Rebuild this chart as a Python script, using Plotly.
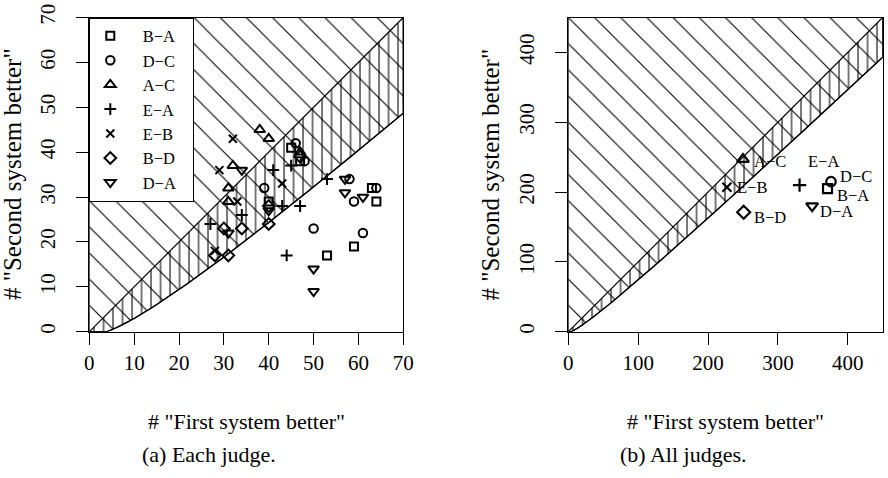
import numpy as np
import plotly.graph_objects as go

FONT = "Liberation Serif"
W, H = 888, 478

# ---------------- data ----------------
PAIRS = ["B−A", "D−C", "A−C", "E−A", "E−B", "B−D", "D−A"]

# panel (a): one point per judge  (# "first system better", # "second system better")
BA_FIRST = [45, 47, 40, 63, 64, 59, 53]
BA_SECOND = [41, 38, 29, 32, 29, 19, 17]
DC_FIRST = [46, 48, 58, 59, 64, 39, 50, 61]
DC_SECOND = [42, 38, 34, 29, 32, 32, 23, 22]
AC_FIRST = [38, 40, 32, 31, 31, 47]
AC_SECOND = [45, 43, 37, 32, 29, 40]
EA_FIRST = [41, 45, 53, 43, 47, 44, 34, 27]
EA_SECOND = [36, 37, 34, 28, 28, 17, 26, 24]
EB_FIRST = [32, 29, 43, 33, 28]
EB_SECOND = [43, 36, 33, 29, 18]
BD_FIRST = [40, 40, 34, 30, 28, 31, 47]
BD_SECOND = [28, 24, 23, 23, 17, 17, 39]
DA_FIRST = [34, 57, 57, 61, 40, 31, 50, 50]
DA_SECOND = [36, 34, 31, 30, 27, 22, 14, 9]

FIRST_BY_PAIR = [BA_FIRST, DC_FIRST, AC_FIRST, EA_FIRST, EB_FIRST, BD_FIRST, DA_FIRST]
SECOND_BY_PAIR = [BA_SECOND, DC_SECOND, AC_SECOND, EA_SECOND, EB_SECOND, BD_SECOND, DA_SECOND]

# panel (b): all judges pooled
TOTAL_FIRST = [371, 376, 250, 331, 227, 251, 349]
TOTAL_SECOND = [205, 215, 247, 210, 207, 171, 180]

TICKS_A = [0, 10, 20, 30, 40, 50, 60, 70]
TICKS_B = [0, 100, 200, 300, 400]
RANGE_A = [0, 70]
RANGE_B = [0, 450]
Z_CRIT = 1.96  # two-sided 5% sign test (normal approx.)

# ---------------- styles ----------------
SYMBOLS = ["square-open", "circle-open", "triangle-up-open", "cross-thin-open",
           "x-thin-open", "diamond-open", "triangle-down-open"]
SIZES = [8, 8.5, 9.5, 8.5, 8, 9, 9.5]
LABEL_DX = [7, 7, 9, 24, 8, 8, 6]
LABEL_DY = [-7, 5, -2, 24, 0, -5, -5]
LABEL_ANCHOR = ["left", "left", "left", "center", "left", "left", "left"]

PX_L, PX_R = 89.3, 403.3
PX_L2, PX_R2 = 568.3, 882.7
PY_T, PY_B = 17.5, 331.7


def boundary(xmax):
    r = (-Z_CRIT + np.sqrt(Z_CRIT ** 2 + 8 * xmax)) / 2
    s = np.linspace(Z_CRIT ** 2, r ** 2, 300)
    return (s + Z_CRIT * np.sqrt(s)) / 2, (s - Z_CRIT * np.sqrt(s)) / 2


fig = go.Figure()


def add_regions(xmax, xa, ya):
    cx, cy = boundary(xmax)
    # region where "first better" is not significant: diagonal hatching
    px = list(cx) + [xmax, 0, 0, cx[0]]
    py = list(cy) + [xmax, xmax, 0, cy[0]]
    fig.add_trace(go.Scatter(
        x=px, y=py, mode="lines", fill="toself", fillcolor="rgba(0,0,0,0)",
        fillpattern=dict(shape="\\", size=18.5, solidity=0.06, fgcolor="black",
                         bgcolor="rgba(0,0,0,0)", fillmode="replace"),
        line=dict(color="black", width=1.2), xaxis=xa, yaxis=ya,
        showlegend=False, hoverinfo="skip"))
    # band between the diagonal and the significance curve: vertical hatching
    bx = [0, xmax, xmax] + list(cx[::-1]) + [0]
    by = [0, xmax, cy[-1]] + list(cy[::-1]) + [0]
    fig.add_trace(go.Scatter(
        x=bx, y=by, mode="lines", fill="toself", fillcolor="rgba(0,0,0,0)",
        fillpattern=dict(shape="|", size=9.5, solidity=0.11, fgcolor="black",
                         bgcolor="rgba(0,0,0,0)", fillmode="replace"),
        line=dict(color="black", width=1.2), xaxis=xa, yaxis=ya,
        showlegend=False, hoverinfo="skip"))


add_regions(RANGE_A[1], "x", "y")
add_regions(RANGE_B[1], "x2", "y2")

NB = "\u00a0"
for i, name in enumerate(PAIRS):
    fig.add_trace(go.Scatter(
        x=FIRST_BY_PAIR[i], y=SECOND_BY_PAIR[i], mode="markers",
        name=NB * 3 + name + NB * 3,
        marker=dict(symbol=SYMBOLS[i], size=SIZES[i], color="black",
                    line=dict(width=2, color="black")),
        xaxis="x", yaxis="y", showlegend=True))

for i, name in enumerate(PAIRS):
    fig.add_trace(go.Scatter(
        x=[TOTAL_FIRST[i]], y=[TOTAL_SECOND[i]], mode="markers",
        marker=dict(symbol=SYMBOLS[i], size=SIZES[i] + 1, color="black",
                    line=dict(width=2.2, color="black")),
        xaxis="x2", yaxis="y2", showlegend=False))

annotations = []
for i, name in enumerate(PAIRS):
    annotations.append(dict(
        x=TOTAL_FIRST[i], y=TOTAL_SECOND[i], xref="x2", yref="y2", text=name,
        showarrow=False, xanchor=LABEL_ANCHOR[i], yanchor="middle",
        xshift=LABEL_DX[i], yshift=LABEL_DY[i],
        font=dict(family=FONT, size=16.5, color="black")))

title_font = dict(family=FONT, size=22, color="black")
for dom, cap, capx in [("x domain", "(a) Each judge.", 208.5), ("x2 domain", "(b) All judges.", 683.5)]:
    annotations.append(dict(x=0.5, xref=dom, y=1 - 421 / H, yref="paper",
                            text='# "First system better"', showarrow=False,
                            xanchor="center", yanchor="middle", font=title_font))
    annotations.append(dict(x=capx / W, xref="paper", y=1 - 454 / H, yref="paper",
                            text=cap, showarrow=False, xanchor="center",
                            yanchor="middle", font=title_font))
for px in [12.5, 490]:
    annotations.append(dict(x=px / W, xref="paper", y=1 - 174.5 / H, yref="paper",
                            text='# "Second system better"', showarrow=False,
                            textangle=-90, xanchor="center", yanchor="middle",
                            font=dict(family=FONT, size=25, color="black")))


def axis(domain, rng, ticks, anchor, angle, standoff):
    return dict(domain=domain, range=rng, tickvals=ticks, ticks="outside",
                ticklen=12, tickwidth=1, tickcolor="black", showline=True,
                linecolor="black", linewidth=1, mirror=True, showgrid=False,
                zeroline=False, anchor=anchor, tickangle=angle,
                ticklabelstandoff=standoff, automargin=False,
                tickfont=dict(family=FONT, size=21, color="black"))


ydom = [1 - PY_B / H, 1 - PY_T / H]
fig.update_layout(
    width=W, height=H, margin=dict(l=0, r=0, t=0, b=0, autoexpand=False),
    paper_bgcolor="white", plot_bgcolor="white",
    font=dict(family=FONT, color="black"),
    xaxis=axis([PX_L / W, PX_R / W], RANGE_A, TICKS_A, "y", 0, 0),
    yaxis=axis(ydom, RANGE_A, TICKS_A, "x", -90, 13),
    xaxis2=axis([PX_L2 / W, PX_R2 / W], RANGE_B, TICKS_B, "y2", 0, 0),
    yaxis2=axis(ydom, RANGE_B, TICKS_B, "x2", -90, 13),
    legend=dict(x=PX_L / W, y=1 - PY_T / H, xanchor="left", yanchor="top",
                bgcolor="white", bordercolor="black", borderwidth=1,
                font=dict(family=FONT, size=16.5, color="black"),
                tracegroupgap=0, itemwidth=30),
    annotations=annotations,
)

fig.write_html("out.html")
